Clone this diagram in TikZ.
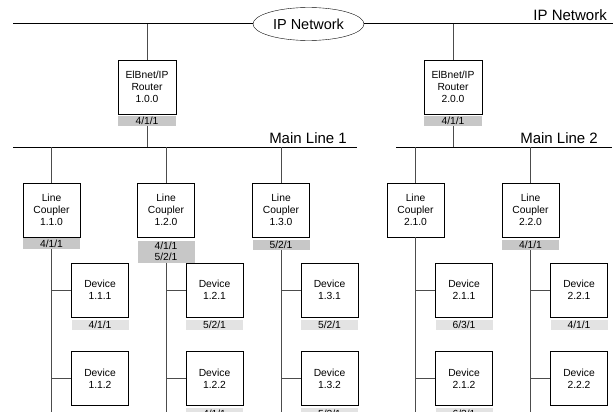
\documentclass[tikz,border=0pt]{standalone}
\usepackage{fontspec}
\setmainfont{Liberation Sans}
\usetikzlibrary{shapes.geometric, positioning, calc}
\tikzset{
    ipnet/.style={
        ellipse,
        draw=black,
        thin,
        minimum width=111pt,
        minimum height=33pt,
        inner sep=0pt,
        fill=white,
        font=\fontsize{14.5}{17}\selectfont
    },
    unitbox/.style={
        rectangle,
        draw=black,
        line width=0.8pt,
        minimum width=57pt,
        minimum height=54pt,
        inner sep=0pt,
        fill=white,
        align=center,
        font=\fontsize{10.3}{11.8}\selectfont
    },
    couplerphys/.style={
        rectangle,
        fill=black!22,
        minimum width=57pt,
        minimum height=10.5pt,
        inner sep=0.3pt,
        align=center,
        font=\fontsize{10.3}{11}\selectfont
    },
    devicephys/.style={
        couplerphys,
        fill=black!11
    },
    backbone/.style={
        draw=black,
        line width=1pt
    },
    branch/.style={
        draw=black!70,
        line width=0.8pt
    },
    linename/.style={
        anchor=south east,
        inner sep=1pt,
        font=\fontsize{15}{17}\selectfont
    }
}
\begin{document}
\begin{tikzpicture}[x=1pt, y=-1pt]
\useasboundingbox (0,0) rectangle (613,412);

% IP backbone
\node[ipnet] (ipnet) at (308.5,24) {IP Network};
\coordinate (ipL) at (13,24);
\coordinate (ipR) at (613,24);
\draw[backbone] (ipL) -- (ipnet.west);
\draw[backbone] (ipnet.east) -- (ipR);
\node[linename] (iplabel) at (608,22) {IP Network};

% Routers
\node[unitbox, minimum width=58pt] (rt1) at (147,87) {ElBnet/IP\\Router\\1.0.0};
\node[couplerphys, minimum width=58pt, below=1pt of rt1] (rt1phys) {4/1/1};
\node[unitbox, minimum width=58pt] (rt2) at (453,87) {ElBnet/IP\\Router\\2.0.0};
\node[couplerphys, minimum width=58pt, below=1pt of rt2] (rt2phys) {4/1/1};

% Main lines
\coordinate (ml1L) at (13,147);
\coordinate (ml1R) at (357,147);
\coordinate (ml2L) at (396,147);
\coordinate (ml2R) at (612,147);
\draw[backbone] (ml1L) -- (ml1R);
\draw[backbone] (ml2L) -- (ml2R);
\node[linename] (ml1label) at (348,145) {Main Line 1};
\node[linename] (ml2label) at (599,145) {Main Line 2};

\draw[branch] (rt1.north) -- (rt1.north |- ipL);
\draw[branch] (rt2.north) -- (rt2.north |- ipL);
\draw[branch] (rt1phys.south) -- (rt1phys.south |- ml1L);
\draw[branch] (rt2phys.south) -- (rt2phys.south |- ml2L);

% Line couplers
\node[unitbox] (lc11) at (51.5,210) {Line\\Coupler\\1.1.0};
\node[unitbox] (lc12) at (166,210) {Line\\Coupler\\1.2.0};
\node[unitbox] (lc13) at (281,210) {Line\\Coupler\\1.3.0};
\node[unitbox] (lc21) at (415.5,210) {Line\\Coupler\\2.1.0};
\node[unitbox] (lc22) at (530.5,210) {Line\\Coupler\\2.2.0};

\node[couplerphys, below=0.5pt of lc11] (lc11phys) {4/1/1};
\node[couplerphys, below=3pt of lc12, minimum height=22pt] (lc12phys) {4/1/1\\5/2/1};
\node[couplerphys, below=2pt of lc13] (lc13phys) {5/2/1};
\node[couplerphys, below=2pt of lc22] (lc22phys) {4/1/1};

\draw[branch] (lc11.north) -- (lc11.north |- ml1L);
\draw[branch] (lc12.north) -- (lc12.north |- ml1L);
\draw[branch] (lc13.north) -- (lc13.north |- ml1L);
\draw[branch] (lc21.north) -- (lc21.north |- ml2L);
\draw[branch] (lc22.north) -- (lc22.north |- ml2L);

% Lines down to the devices
\coordinate (ln11) at (51.5,412);
\coordinate (ln12) at (166,412);
\coordinate (ln13) at (281,412);
\coordinate (ln21) at (415.5,412);
\coordinate (ln22) at (530.5,412);
\draw[branch] (lc11phys.south) -- (ln11);
\draw[branch] (lc12phys.south) -- (ln12);
\draw[branch] (lc13phys.south) -- (ln13);
\draw[branch] (lc21.south) -- (ln21);
\draw[branch] (lc22phys.south) -- (ln22);

% Devices
\foreach \ln/\lx in {11/51.5, 12/166, 13/281, 21/415.5, 22/530.5} {
    \node[unitbox] (dv\ln1) at (\lx+48.5,290) {};
    \node[unitbox] (dv\ln2) at (\lx+48.5,378.5) {};
    \draw[branch] (dv\ln1.west) -- (dv\ln1.west -| ln\ln);
    \draw[branch] (dv\ln2.west) -- (dv\ln2.west -| ln\ln);
}
\node[align=center, font=\fontsize{10.3}{11.8}\selectfont] at (dv111) {Device\\1.1.1};
\node[align=center, font=\fontsize{10.3}{11.8}\selectfont] at (dv112) {Device\\1.1.2};
\node[align=center, font=\fontsize{10.3}{11.8}\selectfont] at (dv121) {Device\\1.2.1};
\node[align=center, font=\fontsize{10.3}{11.8}\selectfont] at (dv122) {Device\\1.2.2};
\node[align=center, font=\fontsize{10.3}{11.8}\selectfont] at (dv131) {Device\\1.3.1};
\node[align=center, font=\fontsize{10.3}{11.8}\selectfont] at (dv132) {Device\\1.3.2};
\node[align=center, font=\fontsize{10.3}{11.8}\selectfont] at (dv211) {Device\\2.1.1};
\node[align=center, font=\fontsize{10.3}{11.8}\selectfont] at (dv212) {Device\\2.1.2};
\node[align=center, font=\fontsize{10.3}{11.8}\selectfont] at (dv221) {Device\\2.2.1};
\node[align=center, font=\fontsize{10.3}{11.8}\selectfont] at (dv222) {Device\\2.2.2};

\node[devicephys, below=2pt of dv111] (dv111phys) {4/1/1};
\node[devicephys, below=2pt of dv121] (dv121phys) {5/2/1};
\node[devicephys, below=2pt of dv131] (dv131phys) {5/2/1};
\node[devicephys, below=2pt of dv211] (dv211phys) {6/3/1};
\node[devicephys, below=2pt of dv221] (dv221phys) {4/1/1};
\node[devicephys, below=2pt of dv122] (dv122phys) {4/1/1};
\node[devicephys, below=2pt of dv132] (dv132phys) {5/2/1};
\node[devicephys, below=2pt of dv212] (dv212phys) {6/3/1};

\end{tikzpicture}
\end{document}
